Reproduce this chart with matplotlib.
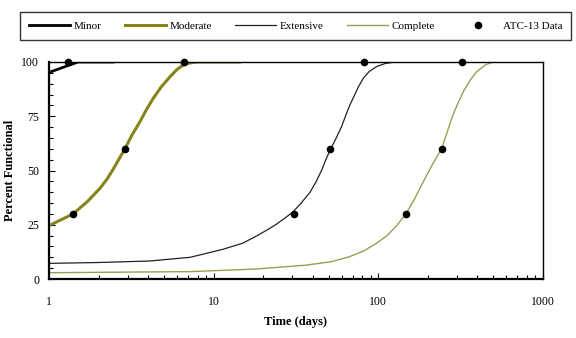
import matplotlib
matplotlib.use("Agg")
import matplotlib.pyplot as plt
from matplotlib.lines import Line2D
from matplotlib.ticker import LogLocator, NullFormatter, FixedLocator, FixedFormatter

plt.rcParams['font.family'] = ['Liberation Serif', 'DejaVu Serif']

# ---- data ----
minor_days = [1, 1.5, 2.5]
minor_pct = [95.2, 100, 100]

moderate_days = [1, 1.2, 1.4, 1.7, 2.04, 2.25, 2.45, 2.65, 2.89, 3.2, 3.57, 3.9, 4.3, 4.8, 5.43, 6.0, 6.6, 7.2, 7.9, 14.4]
moderate_pct = [24.6, 27.5, 30, 35.5, 41.8, 46, 50.5, 55, 60, 66.5, 72.5, 78, 83.3, 88.5, 93.2, 96.6, 98.8, 99.6, 100, 100]

extensive_days = [1, 2, 4.1, 7.2, 11.4, 15, 18.2, 21, 24.1, 27, 30.4, 34, 38.5, 42, 45.3, 48,
                  51.4, 55.5, 59.8, 63.5, 67.2, 72, 76, 81, 88, 97.6, 110, 126]
extensive_pct = [7.2, 7.6, 8.3, 10, 13.7, 16.5, 19.8, 22.5, 25.3, 28, 31, 35, 40, 45, 50.2, 55,
                 60, 65, 70.2, 75.5, 80.2, 85, 88.8, 92.5, 95.6, 97.9, 99.3, 100]

complete_days = [1, 7.2, 18.2, 36.6, 52, 67, 82, 97.6, 113, 129, 147, 165, 187.5, 212, 242,
                 260, 278.6, 302, 328, 360, 395, 450, 499]
complete_pct = [2.9, 3.4, 4.6, 6.4, 8, 10.3, 13, 16.5, 20, 24.5, 30, 36.5, 44.8, 52.5, 60,
                67, 74, 80.5, 86.3, 91.5, 95.5, 98.8, 100]

atc_days = [1.3, 1.4, 2.9, 6.6, 30.7, 51, 82, 147, 242, 320]
atc_pct = [100, 30, 60, 100, 30, 60, 100, 30, 60, 100]

x_ticks = [1, 10, 100, 1000]
x_labels = ['1', '10', '100', '1000']
y_ticks = [0, 25, 50, 75, 100]
y_labels = ['0', '25', '50', '75', '100']

legend_labels = ['Minor', 'Moderate', 'Extensive', 'Complete', 'ATC-13 Data']

# ---- styles ----
c_minor = 'black'
c_mod = '#84841a'
c_ext = '#222222'
c_comp = '#9c9c50'

fig = plt.figure(figsize=(5.76, 3.38), dpi=100)
ax = fig.add_axes([49/576, 1-279/338, (543-49)/576, (279-62)/338])

ax.plot(minor_days, minor_pct, color=c_minor, lw=2.0, solid_capstyle='butt')
ax.plot(moderate_days, moderate_pct, color=c_mod, lw=2.2)
ax.plot(extensive_days, extensive_pct, color=c_ext, lw=0.9)
ax.plot(complete_days, complete_pct, color=c_comp, lw=1.0)
ax.plot(atc_days, atc_pct, 'o', color='black', ms=4.5, clip_on=False, zorder=5)

ax.set_xscale('log')
ax.set_xlim(1, 1000)
ax.set_ylim(0, 100)

ax.xaxis.set_major_locator(FixedLocator(x_ticks))
ax.xaxis.set_major_formatter(FixedFormatter(x_labels))
ax.xaxis.set_minor_locator(LogLocator(base=10, subs=range(2, 10)))
ax.xaxis.set_minor_formatter(NullFormatter())
ax.yaxis.set_major_locator(FixedLocator(y_ticks))
ax.yaxis.set_major_formatter(FixedFormatter(y_labels))
ax.yaxis.set_minor_locator(FixedLocator([v for v in range(0, 101, 5) if v % 25]))

ax.tick_params(axis='both', which='both', direction='in', labelsize=8.5, width=0.8)
ax.tick_params(axis='x', which='major', length=4, pad=12)
ax.tick_params(axis='x', which='minor', length=3)
ax.tick_params(axis='y', which='major', length=4, pad=7)
ax.tick_params(axis='y', which='minor', length=3)

for s in ['left', 'bottom']:
    ax.spines[s].set_linewidth(1.6)
for s in ['top', 'right']:
    ax.spines[s].set_linewidth(1.0)

ax.set_xlabel('Time (days)', fontsize=9, fontweight='bold')
ax.set_ylabel('Percent Functional', fontsize=9, fontweight='bold')
ax.xaxis.set_label_coords(0.5, (279-316)/217)
ax.yaxis.set_label_coords((16-49)/494, 0.5)

handles = [
    Line2D([], [], color=c_minor, lw=2.0),
    Line2D([], [], color=c_mod, lw=2.2),
    Line2D([], [], color=c_ext, lw=0.9),
    Line2D([], [], color=c_comp, lw=1.0),
    Line2D([], [], color='black', marker='o', ms=4.5, ls='none'),
]
leg = fig.legend(handles, legend_labels, loc='lower left', ncol=5, mode='expand',
                 bbox_to_anchor=(20/576, 1-40/338, 551/576, 31/338),
                 borderaxespad=0, fontsize=8, handlelength=3.7, handletextpad=0.35,
                 frameon=True, fancybox=False, edgecolor='black', borderpad=0.8)
leg.get_frame().set_linewidth(1.0)

fig.savefig('out.png', dpi=100)
